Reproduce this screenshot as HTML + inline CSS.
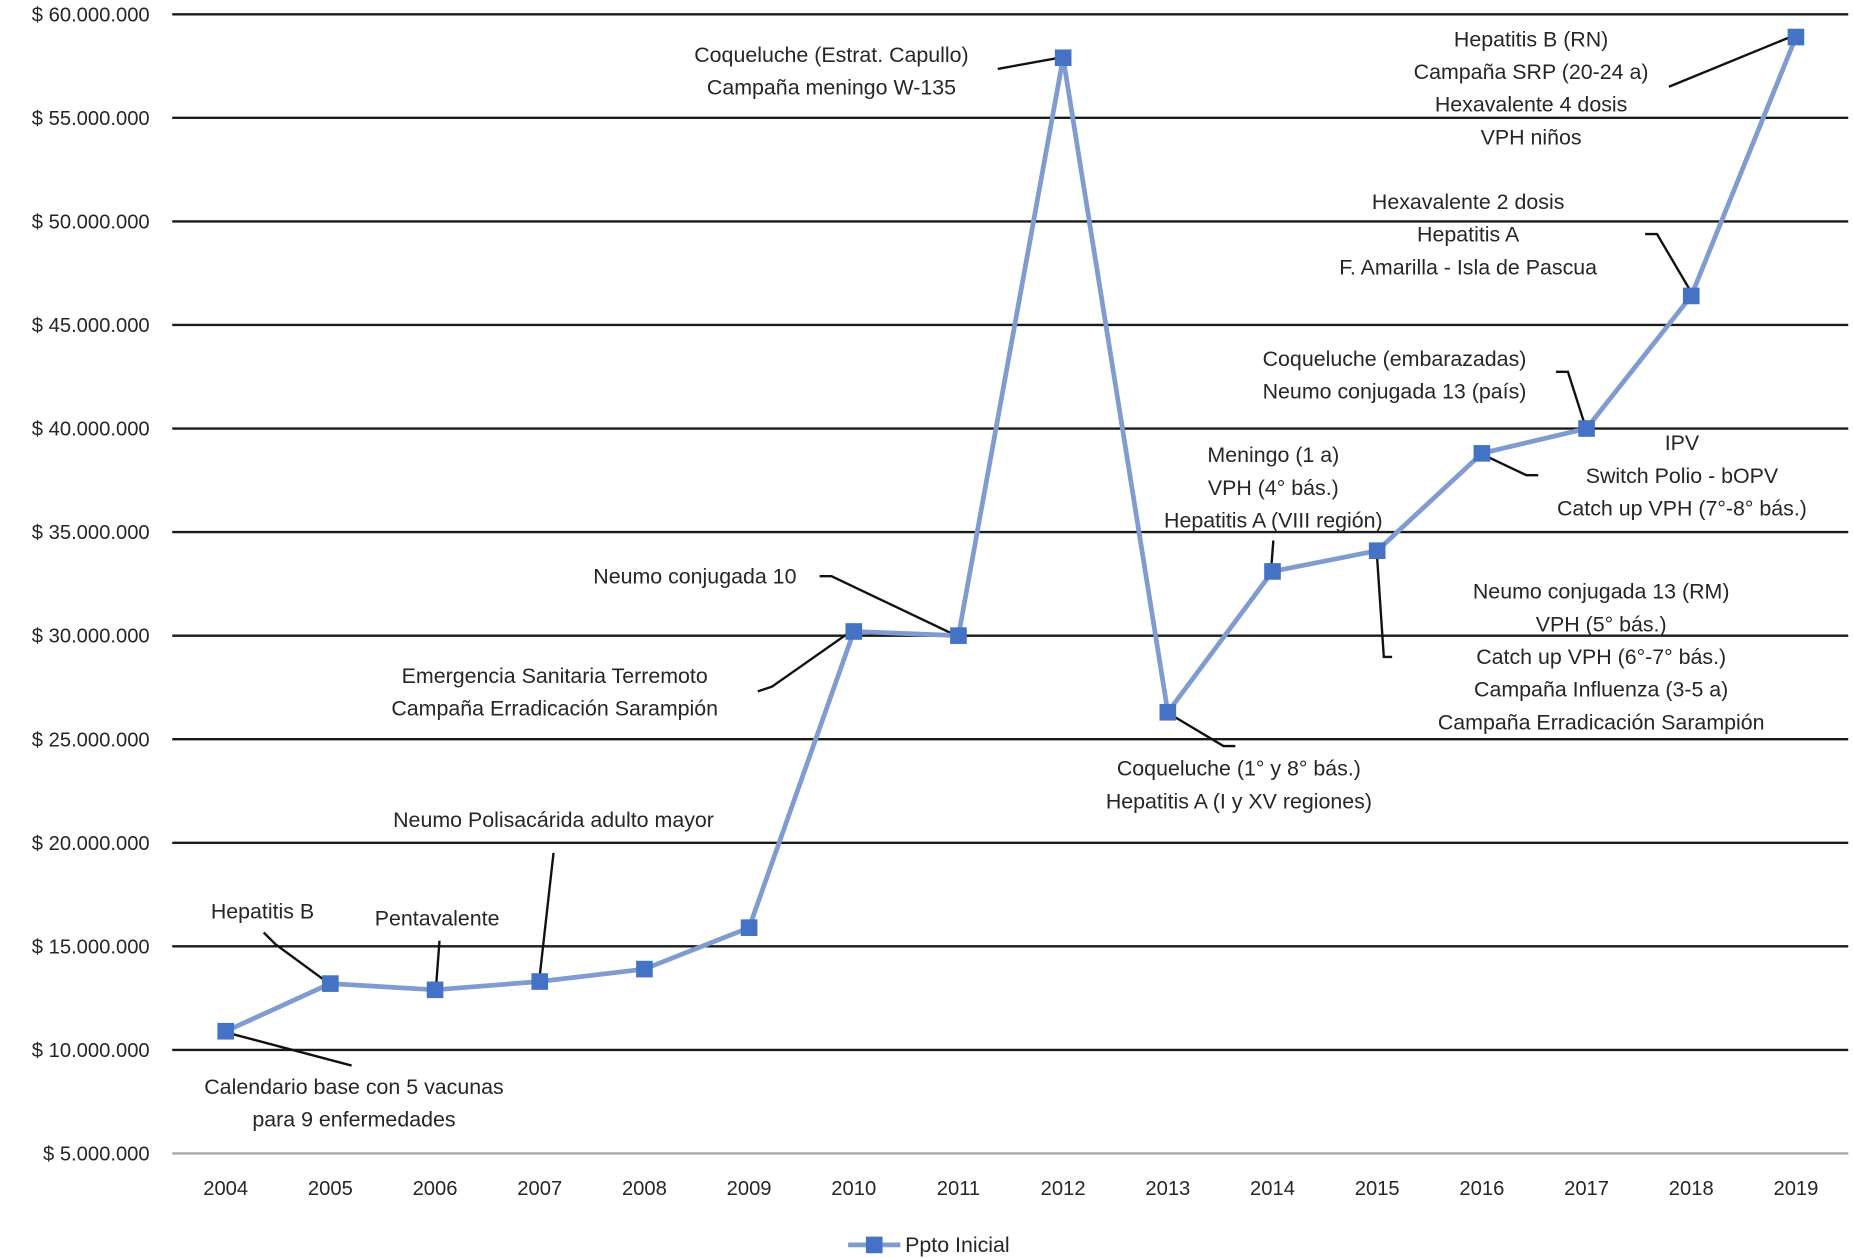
<!DOCTYPE html>
<html><head><meta charset="utf-8"><style>
html,body{margin:0;padding:0;background:#fff}
svg{display:block}
text{font-family:"Liberation Sans",sans-serif;fill:#262626}
</style></head><body>
<svg id="chart" width="1853" height="1258" viewBox="0 0 1560 1059" preserveAspectRatio="none" xmlns="http://www.w3.org/2000/svg">
<g id="grid"></g>
<g id="ylab"></g>
<g id="xlab"></g>
<g id="ann"></g>
<g id="series"></g>
<g>
<line x1="714" y1="1048" x2="758" y2="1048" stroke="#7f9bd0" stroke-width="4"/>
<rect x="729" y="1041" width="14" height="14" fill="#4472c4"/>
<text x="762" y="1054" font-size="18">Ppto Inicial</text>
</g>
</svg>
<script>
const categories=["2004","2005","2006","2007","2008","2009","2010","2011","2012","2013","2014","2015","2016","2017","2018","2019"];
const values=[10.9,13.2,12.9,13.3,13.9,15.9,30.2,30.0,57.9,26.3,33.1,34.1,38.8,40.0,46.4,58.9];
const yTicks=[5,10,15,20,25,30,35,40,45,50,55,60];
const yTickLabels=["$ 5.000.000","$ 10.000.000","$ 15.000.000","$ 20.000.000","$ 25.000.000","$ 30.000.000","$ 35.000.000","$ 40.000.000","$ 45.000.000","$ 50.000.000","$ 55.000.000","$ 60.000.000"];
const NS="http://www.w3.org/2000/svg";
const y=v=>12+(60-v)*87.18/5;
const x=i=>190+i*88.13;
function mk(tag,parent,attrs){const e=document.createElementNS(NS,tag);for(const k in attrs)e.setAttribute(k,attrs[k]);parent.appendChild(e);return e;}
const grid=document.getElementById('grid'),ylab=document.getElementById('ylab'),xlab=document.getElementById('xlab');
yTicks.forEach((t,i)=>{
 const l=mk('line',grid,{x1:145,x2:1556,y1:y(t),y2:y(t),stroke:t===5?'#a6a6a6':'#1a1a1a','stroke-width':2});
 
 
 const tx=mk('text',ylab,{x:126,y:y(t)+6,'text-anchor':'end','font-size':17});
 tx.textContent=yTickLabels[i];
 
 
});
categories.forEach((c,i)=>{
 const tx=mk('text',xlab,{x:x(i),y:1006,'text-anchor':'middle','font-size':17});
 tx.textContent=c;
 
 
});
const ann=document.getElementById('ann');
const notes=[
 [700,46,["Coqueluche (Estrat. Capullo)","Campaña meningo W-135"],"840,58 895,48"],
 [1289,33,["Hepatitis B (RN)","Campaña SRP (20-24 a)","Hexavalente 4 dosis","VPH niños"],"1405,73 1510,30"],
 [1236,170,["Hexavalente 2 dosis","Hepatitis A","F. Amarilla - Isla de Pascua"],"1385,197 1395,197 1425,248"],
 [1174,302,["Coqueluche (embarazadas)","Neumo conjugada 13 (país)"],"1310,313 1320,313 1335,360"],
 [1416,373,["IPV","Switch Polio - bOPV","Catch up VPH (7°-8° bás.)"],"1295,400 1285,400 1247,382"],
 [1072,383,["Meningo (1 a)","VPH (4° bás.)","Hepatitis A (VIII región)"],"1072,455 1070,481"],
 [1348,498,["Neumo conjugada 13 (RM)","VPH (5° bás.)","Catch up VPH (6°-7° bás.)","Campaña Influenza (3-5 a)","Campaña Erradicación Sarampión"],"1172,553 1165,553 1159,464"],
 [585,485,["Neumo conjugada 10"],"690,485 700,485 807,536"],
 [467,569,["Emergencia Sanitaria Terremoto","Campaña Erradicación Sarampión"],"638,582 650,578 717,531"],
 [1043,647,["Coqueluche (1° y 8° bás.)","Hepatitis A (I y XV regiones)"],"1040,628 1030,628 983,600"],
 [466,690,["Neumo Polisacárida adulto mayor"],"466,718 454,825"],
 [221,767,["Hepatitis B"],"222,785 232,795 277,828"],
 [368,773,["Pentavalente"],"370,792 367,832"],
 [298,915,["Calendario base con 5 vacunas","para 9 enfermedades"],"296,897 190,869"]
];
notes.forEach(n=>{
 const p=mk('polyline',ann,{points:n[3],fill:'none',stroke:'#111','stroke-width':2});
 
 
 n[2].forEach((s,k)=>{
  const t=mk('text',ann,{x:n[0],y:n[1]+6+k*27.5,'text-anchor':'middle','font-size':18});
  t.textContent=s;
  
  
 });
});
const ser=document.getElementById('series');
const line=mk('polyline',ser,{points:values.map((v,i)=>x(i)+','+y(v)).join(' '),fill:'none',stroke:'#7f9bd0','stroke-width':4,'stroke-linejoin':'round'});


values.forEach((v,i)=>{
 const r=mk('rect',ser,{x:x(i)-7,y:y(v)-7,width:14,height:14,fill:'#4472c4'});
 
 
});
</script>
</body></html>
